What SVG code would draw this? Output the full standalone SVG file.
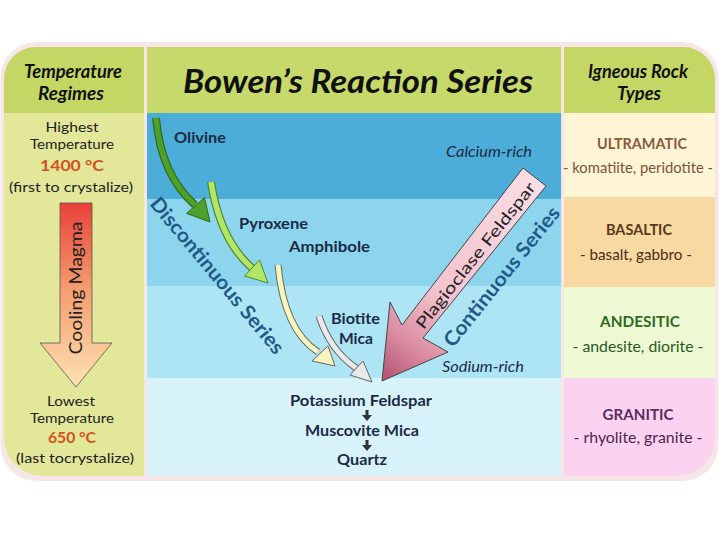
<svg xmlns="http://www.w3.org/2000/svg" width="720" height="540" viewBox="0 0 720 540">
<defs>
<style>
text{font-family:Lato,"Open Sans","Liberation Sans",sans-serif;}
.hd{font-style:italic;font-weight:700;font-size:18px;fill:#111;text-anchor:middle;}
.lt{font-size:14px;fill:#222;text-anchor:middle;}
.deg{font-size:15px;font-weight:700;fill:#d4521e;text-anchor:middle;}
.mn{font-size:15px;font-weight:700;fill:#1b2b45;}
.it{font-size:15px;font-style:italic;fill:#1b2b45;}
.ser{font-size:20px;font-weight:700;fill:#1f5a88;text-anchor:middle;}
.rt{font-size:15px;font-weight:700;text-anchor:middle;}
.rs{font-size:15px;text-anchor:middle;}
.ol{fill:none;stroke-linecap:butt;}
</style>
<clipPath id="cl"><path d="M36,47 H144 V476 H42 A38,38 0 0 1 4,438 V79 A32,32 0 0 1 36,47 Z"/></clipPath>
<clipPath id="cr"><path d="M564,47 H683 A32,32 0 0 1 715,79 V438 A38,38 0 0 1 677,476 H564 Z"/></clipPath>
<linearGradient id="gcool" x1="0" y1="203" x2="0" y2="387" gradientUnits="userSpaceOnUse">
<stop offset="0" stop-color="#e8403a"/><stop offset="0.45" stop-color="#f49a6c"/><stop offset="1" stop-color="#fde2b4"/>
</linearGradient>
<linearGradient id="gpink" x1="535" y1="177" x2="382" y2="381" gradientUnits="userSpaceOnUse">
<stop offset="0" stop-color="#fadde4"/><stop offset="0.6" stop-color="#f3c2ce"/><stop offset="0.82" stop-color="#da8ca2"/><stop offset="1" stop-color="#b04f70"/>
</linearGradient>
</defs>
<rect x="0.5" y="42" width="718" height="439" rx="36" fill="#f6e6e8"/>

<g id="left-column">
<g clip-path="url(#cl)">
<rect x="0" y="40" width="150" height="73" fill="#c4d765"/>
<rect x="0" y="113" width="150" height="370" fill="#e3e79a"/>
</g>
<text class="hd" x="73" y="78" textLength="98" lengthAdjust="spacingAndGlyphs">Temperature</text>
<text class="hd" x="71" y="100" textLength="66" lengthAdjust="spacingAndGlyphs">Regimes</text>
<text class="lt" x="72" y="132" textLength="53" lengthAdjust="spacingAndGlyphs">Highest</text>
<text class="lt" x="72" y="149" textLength="84" lengthAdjust="spacingAndGlyphs">Temperature</text>
<text class="deg" x="72" y="171" textLength="64" lengthAdjust="spacingAndGlyphs">1400 °C</text>
<text class="lt" x="71" y="192" textLength="124" lengthAdjust="spacingAndGlyphs">(first to crystalize)</text>
<text class="lt" x="71" y="406" textLength="48" lengthAdjust="spacingAndGlyphs">Lowest</text>
<text class="lt" x="72" y="423" textLength="84" lengthAdjust="spacingAndGlyphs">Temperature</text>
<text class="deg" x="72" y="443" textLength="48" lengthAdjust="spacingAndGlyphs">650 °C</text>
<text class="lt" x="75" y="463" textLength="118" lengthAdjust="spacingAndGlyphs">(last tocrystalize)</text>
</g>

<g id="cooling-magma">
<polygon points="60,203 92,203 92,343 112,343 76,387 40,343 60,343" fill="url(#gcool)" stroke="#555" stroke-width="0.8"/>
<text x="0" y="0" transform="translate(82,288) rotate(-90)" font-size="18" fill="#222" text-anchor="middle" textLength="133" lengthAdjust="spacingAndGlyphs">Cooling Magma</text>
</g>

<g id="center-column">
<rect x="147" y="47" width="414" height="66" fill="#c6d96a"/>
<rect x="147" y="113" width="414" height="86" fill="#4caed8"/>
<rect x="147" y="199" width="414" height="87" fill="#8dd5ec"/>
<rect x="147" y="286" width="414" height="92" fill="#aee5f5"/>
<rect x="147" y="378" width="414" height="98" fill="#d8f2f9"/>
<text x="358" y="93" font-size="33" font-style="italic" font-weight="700" fill="#111" text-anchor="middle" textLength="350" lengthAdjust="spacingAndGlyphs">Bowen’s Reaction Series</text>
</g>

<g id="right-column">
<g clip-path="url(#cr)">
<rect x="560" y="40" width="160" height="73" fill="#c4d765"/>
<rect x="560" y="113" width="160" height="84" fill="#fdf5d4"/>
<rect x="560" y="197" width="160" height="90" fill="#f7d9a1"/>
<rect x="560" y="287" width="160" height="91" fill="#eef9d4"/>
<rect x="560" y="378" width="160" height="105" fill="#fbd3f0"/>
</g>
<text class="hd" x="638" y="78" textLength="100" lengthAdjust="spacingAndGlyphs">Igneous Rock</text>
<text class="hd" x="639" y="100" textLength="44" lengthAdjust="spacingAndGlyphs">Types</text>
</g>

<g id="ultramatic">
<text class="rt" x="642" y="149" fill="#8a5a3a" textLength="90" lengthAdjust="spacingAndGlyphs">ULTRAMATIC</text>
<text class="rs" x="638" y="173" fill="#7a5440" textLength="150" lengthAdjust="spacingAndGlyphs">- komatiite, peridotite -</text>
</g>
<g id="basaltic">
<text class="rt" x="639" y="235" fill="#5a3820" textLength="66" lengthAdjust="spacingAndGlyphs">BASALTIC</text>
<text class="rs" x="636" y="260" fill="#4a2e1a" textLength="112" lengthAdjust="spacingAndGlyphs">- basalt, gabbro -</text>
</g>
<g id="andesitic">
<text class="rt" x="640" y="327" fill="#2e6b1e" textLength="80" lengthAdjust="spacingAndGlyphs">ANDESITIC</text>
<text class="rs" x="638" y="352" fill="#2a5a1c" textLength="131" lengthAdjust="spacingAndGlyphs">- andesite, diorite -</text>
</g>
<g id="granitic">
<text class="rt" x="638" y="420" fill="#5b2d5e" textLength="71" lengthAdjust="spacingAndGlyphs">GRANITIC</text>
<text class="rs" x="638" y="443" fill="#4e2652" textLength="129" lengthAdjust="spacingAndGlyphs">- rhyolite, granite -</text>
</g>

<g id="connectors">
<g id="arrow-olivine">
<path class="ol" d="M156,118 Q161,175 195,205" stroke="#2e6d18" stroke-width="8"/>
<path class="ol" d="M156,118 Q161,175 195,205" stroke="#4f9f2c" stroke-width="5.5"/>
<polygon points="210,222 186.5,213.4 204.5,197.6" fill="#4f9f2c" stroke="#2e6d18" stroke-width="1"/>
</g>
<g id="arrow-pyroxene">
<path class="ol" d="M211,182 Q220,240 252,268" stroke="#4d8a2a" stroke-width="8"/>
<path class="ol" d="M211,182 Q220,240 252,268" stroke="#b3e666" stroke-width="5.5"/>
<polygon points="268,283 244.5,276 259.5,260" fill="#b3e666" stroke="#4d8a2a" stroke-width="1"/>
</g>
<g id="arrow-amphibole">
<path class="ol" d="M278,265 Q284,330 318,352" stroke="#666" stroke-width="7"/>
<path class="ol" d="M278,265 Q284,330 318,352" stroke="#f8f4bc" stroke-width="5"/>
<polygon points="335,366 312,361 328,346" fill="#f8f4bc" stroke="#666" stroke-width="1"/>
</g>
<g id="arrow-biotite">
<path class="ol" d="M319,316 Q330,350 356,368" stroke="#666" stroke-width="7"/>
<path class="ol" d="M319,316 Q330,350 356,368" stroke="#e9e9e9" stroke-width="5"/>
<polygon points="372,382 350,375 363,361" fill="#e9e9e9" stroke="#666" stroke-width="1"/>
</g>
<g id="arrow-plagioclase">
<polygon points="523,168 546,186 423,338 448,352 382,381 390,302 402,325" fill="url(#gpink)" stroke="#444" stroke-width="1"/>
<text x="0" y="0" transform="translate(480,259) rotate(-51.6)" font-size="16" fill="#222" text-anchor="middle" textLength="182" lengthAdjust="spacingAndGlyphs">Plagioclase Feldspar</text>
</g>
<g id="small-arrows" fill="#333">
<rect x="365.5" y="410" width="3" height="6"/>
<polygon points="362,415 372,415 367,421"/>
<rect x="365.5" y="440" width="3" height="6"/>
<polygon points="362,445 372,445 367,451"/>
</g>
</g>

<g id="minerals">
<text class="mn" x="174" y="143" textLength="52" lengthAdjust="spacingAndGlyphs">Olivine</text>
<text class="it" x="446" y="157" textLength="86" lengthAdjust="spacingAndGlyphs">Calcium-rich</text>
<text class="mn" x="239" y="229" textLength="69" lengthAdjust="spacingAndGlyphs">Pyroxene</text>
<text class="mn" x="289" y="252" textLength="81" lengthAdjust="spacingAndGlyphs">Amphibole</text>
<text class="mn" x="331" y="324" textLength="49" lengthAdjust="spacingAndGlyphs">Biotite</text>
<text class="mn" x="339" y="344" textLength="34" lengthAdjust="spacingAndGlyphs">Mica</text>
<text class="it" x="442" y="372" textLength="82" lengthAdjust="spacingAndGlyphs">Sodium-rich</text>
<text class="mn" x="290" y="406" textLength="142" lengthAdjust="spacingAndGlyphs">Potassium Feldspar</text>
<text class="mn" x="305" y="436" textLength="114" lengthAdjust="spacingAndGlyphs">Muscovite Mica</text>
<text class="mn" x="337" y="465" textLength="50" lengthAdjust="spacingAndGlyphs">Quartz</text>
</g>

<g id="series-labels">
<text class="ser" x="0" y="0" transform="translate(212,280) rotate(50.2)" textLength="197" lengthAdjust="spacingAndGlyphs">Discontinuous Series</text>
<text class="ser" x="0" y="0" transform="translate(507,281) rotate(-51.3)" textLength="173" lengthAdjust="spacingAndGlyphs">Continuous Series</text>
</g>
</svg>
